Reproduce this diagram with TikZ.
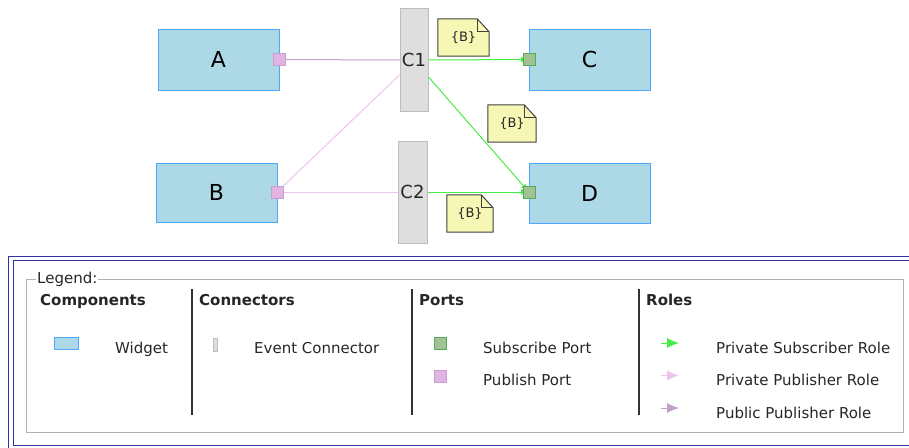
\documentclass[tikz,border=0pt]{standalone}
\usepackage{fontspec}
\setmainfont{DejaVu Sans}
\usetikzlibrary{arrows.meta, backgrounds}
\definecolor{widgetfill}{HTML}{ADD8E6}
\definecolor{widgetline}{HTML}{4DA6FF}
\definecolor{connfill}{HTML}{DEDEDE}
\definecolor{connline}{HTML}{BDBDBD}
\definecolor{subfill}{HTML}{A3C293}
\definecolor{subline}{HTML}{55AA55}
\definecolor{pubfill}{HTML}{E2B4E2}
\definecolor{publine}{HTML}{C8A0D0}
\definecolor{subgreen}{HTML}{44EE44}
\definecolor{privpub}{HTML}{ECC4EC}
\definecolor{publpub}{HTML}{C0A0C8}
\definecolor{notefill}{HTML}{F7F7B5}
\definecolor{noteline}{HTML}{404040}
\definecolor{legblue}{HTML}{3333A0}
\definecolor{leggray}{HTML}{B0B0B0}

\begin{document}
\begin{tikzpicture}[x=1pt, y=-1pt,
  widget/.style={draw=widgetline, fill=widgetfill, line width=1pt, minimum width=121pt, minimum height=61pt, inner sep=0pt, font=\fontsize{22}{26}\selectfont},
  evconn/.style={draw=connline, fill=connfill, line width=1pt, minimum width=28pt, minimum height=103pt, inner sep=0pt, font=\fontsize{18}{20}\selectfont, text=black!85},
  subport/.style={draw=subline, fill=subfill, line width=1pt, minimum size=12pt, inner sep=0pt},
  pubport/.style={draw=publine, fill=pubfill, line width=1pt, minimum size=12pt, inner sep=0pt},
  note/.style={minimum height=37pt, inner sep=0pt, font=\fontsize{13}{15}\selectfont, text=black!85},
  notebox/.style={draw=noteline, fill=notefill, line width=1pt},
  subrole/.style={draw=subgreen, line width=1pt, -{Latex[length=7pt,width=6pt]}},
  pubrole/.style={draw=privpub, line width=1pt},
  pubrolepub/.style={draw=publpub, line width=1pt},
  legtext/.style={font=\fontsize{15}{18}\selectfont, anchor=base west, inner sep=0pt, text=black!85},
  leghead/.style={legtext, font=\bfseries\fontsize{15}{18}\selectfont},
  legsep/.style={draw=black!80, line width=1.2pt},
  legarrow/.style={line width=1pt, -{Latex[length=12pt,width=10pt]}}]
\useasboundingbox (0,0) rectangle (909,447);

\node[widget] (A) at (218.5,59.5) {A};
\node[widget, minimum height=59pt] (B) at (216.5,192.5) {B};
\node[widget] (C) at (589.5,59.5) {C};
\node[widget, minimum height=60pt] (D) at (589.5,193) {D};
\node[evconn] (c1) at (414,60) {C1};
\node[evconn, minimum width=29pt, minimum height=102pt] (c2) at (412.5,192) {C2};

\draw[pubrolepub] (279,59.5) -- (c1.west);
\draw[pubrole] (277,192) -- ([yshift=-15pt]c1.west);
\draw[pubrole] (277,192) -- (c2.west);
\draw[subrole] (c1.east) -- (528,59.5);
\draw[subrole] ([yshift=-17pt]c1.east) -- (528,191);
\draw[subrole] (c2.east) -- (528,192);

\node[pubport] (pA) at (279.5,59.5) {};
\node[pubport] (pB) at (277.5,192) {};
\node[subport] (pC) at (529,59.5) {};
\node[subport] (pD) at (529,192) {};

\node[note, minimum width=51pt] (n1) at (463.5,37.5) {\{B\}};
\node[note, minimum width=48pt] (n2) at (512,123.5) {\{B\}};
\node[note, minimum width=46pt] (n3) at (470,213.5) {\{B\}};
\begin{scope}[on background layer]
\foreach \n in {n1,n2,n3}{
  \filldraw[notebox] (\n.south west) -- (\n.north west) -- ([xshift=-12pt]\n.north east) -- ([yshift=-13pt]\n.north east) -- (\n.south east) -- cycle;
  \draw[notebox, fill=none] ([xshift=-12pt]\n.north east) -- ([xshift=-12pt,yshift=-13pt]\n.north east) -- ([yshift=-13pt]\n.north east);
}
\end{scope}

\draw[legblue] (8,256) rectangle (915,449);
\draw[legblue] (13,260) rectangle (911,445.5);
\draw[leggray, line width=1pt] (26,279) rectangle (903,432);
\node[legtext, fill=white, inner xsep=1pt] (legend) at (36,283) {Legend:};

\draw[legsep] (192,289) -- (192,415);
\draw[legsep] (412,289) -- (412,415);
\draw[legsep] (639,289) -- (639,415);

\node[leghead] (hComp) at (40,305) {Components};
\node[leghead] (hConn) at (199,305) {Connectors};
\node[leghead] (hPort) at (419,305) {Ports};
\node[leghead] (hRole) at (646,305) {Roles};

\node[widget, minimum width=24pt, minimum height=12pt] (lWidget) at (66,343) {};
\node[legtext] (tWidget) at (115,353) {Widget};
\node[evconn, minimum width=4pt, minimum height=13pt] (lConn) at (215.5,344.5) {};
\node[legtext] (tConn) at (254,353) {Event Connector};
\node[subport] (lSub) at (440.5,343) {};
\node[legtext] (tSub) at (483,353) {Subscribe Port};
\node[pubport] (lPub) at (440.5,376) {};
\node[legtext] (tPub) at (483,385.5) {Publish Port};

\coordinate (rs0) at (661,343);
\coordinate (rs1) at (679,343);
\coordinate (rp0) at (661,375.5);
\coordinate (rp1) at (679,375.5);
\coordinate (ru0) at (661,408);
\coordinate (ru1) at (679,408);
\draw[legarrow, subgreen] (rs0) -- (rs1);
\draw[legarrow, privpub] (rp0) -- (rp1);
\draw[legarrow, publpub] (ru0) -- (ru1);
\node[legtext] (tRs) at (716,353) {Private Subscriber Role};
\node[legtext] (tRp) at (716,385.5) {Private Publisher Role};
\node[legtext] (tRu) at (716,418) {Public Publisher Role};
\end{tikzpicture}
\end{document}
